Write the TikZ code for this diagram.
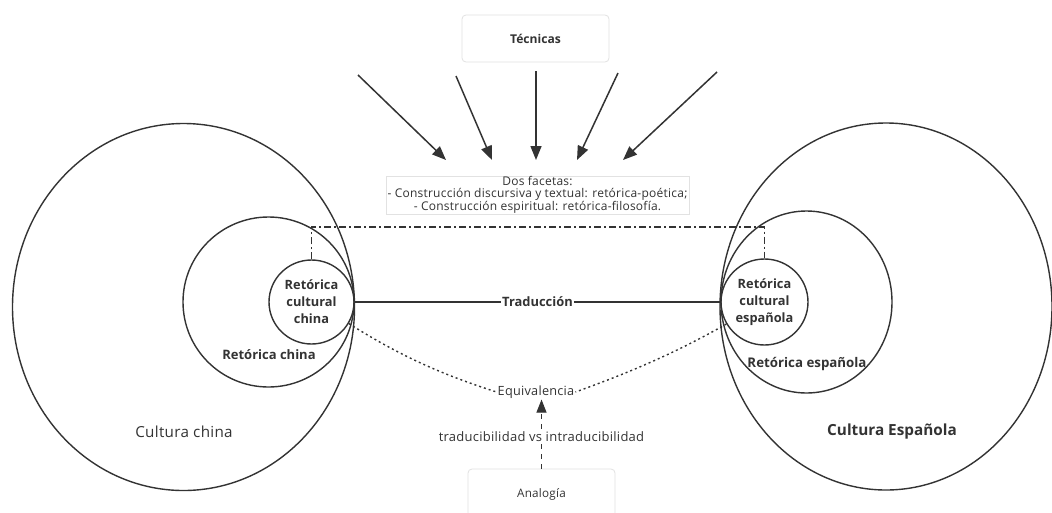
\documentclass[tikz,border=0pt]{standalone}
\usepackage{fontspec}
\setmainfont{Open Sans}[LetterSpace=2,BoldFeatures={LetterSpace=0}]
\usetikzlibrary{shapes.geometric,arrows.meta}
\definecolor{ln}{HTML}{333333}
\definecolor{tx}{HTML}{333333}
\definecolor{bx}{HTML}{E2E2E2}
\begin{document}
\begin{tikzpicture}[x=1pt,y=-1pt,
  ring/.style={draw=ln,line width=1.4pt,ellipse,inner sep=0pt},
  lbl/.style={text=tx,font=\fontsize{12.7}{14}\selectfont,inner sep=1pt},
  blbl/.style={text=tx,font=\bfseries\fontsize{12.8}{17}\selectfont,align=center,inner sep=1pt},
  card/.style={draw=bx,line width=0.8pt,rounded corners=4pt,fill=white,minimum width=147pt},
  arr/.style={draw=ln,line width=1.5pt,-{Triangle[length=14pt,width=11pt]}},
  dashdotline/.style={draw=ln,line width=1.4pt,dash pattern=on 7pt off 3pt on 2pt off 3pt},
  dotline/.style={draw=ln,line width=1.4pt,dash pattern=on 2pt off 3pt},
]
\clip (0,0) rectangle (1052,512);
\fill[white] (0,0) rectangle (1052,512);
% circles left
\node[ring,minimum width=342pt,minimum height=367pt] (culL) at (183.5,307) {};
\node[ring,minimum width=171pt,minimum height=170pt] (retL) at (268.5,302) {};
\node[ring,minimum width=85pt,minimum height=84pt] (rccL) at (311.5,302) {};
\node[blbl] (rccLlbl) at (rccL.center) {Retórica\\cultural\\china};
\node[blbl,font=\bfseries\fontsize{13}{17}\selectfont] (retLlbl) at (269,355) {Retórica china};
\node[lbl,font=\fontsize{15.2}{17}\selectfont] (culLlbl) at (184,432) {Cultura china};
% circles right
\node[ring,minimum width=332pt,minimum height=367pt] (culR) at (886,306.5) {};
\node[ring,minimum width=171pt,minimum height=182pt] (retR) at (806.5,302) {};
\node[ring,minimum width=87pt,minimum height=86pt] (rccR) at (764.5,302) {};
\node[blbl] (rccRlbl) at (rccR.center) {Retórica\\cultural\\española};
\node[blbl,font=\bfseries\fontsize{13.3}{17}\selectfont] (retRlbl) at (807,364) {Retórica española};
\node[blbl,font=\bfseries\fontsize{15.3}{17}\selectfont] (culRlbl) at (892,432) {Cultura Española};
% dash-dot link
\coordinate (dd) at (537,227);
\draw[dashdotline] (rccL.north) |- (dd) -| (rccR.north);
% two facets box
\node[draw=bx,line width=0.6pt,fill=white,align=center,text=tx,font=\fontsize{12}{11.8}\selectfont,minimum width=303pt,minimum height=38pt,inner sep=0.5pt] (dos) at (537.5,195) {Dos facetas:\\- Construcción discursiva y textual: retórica-poética;\\- Construcción espiritual: retórica-filosofía.};
% Tecnicas
\node[card,minimum height=47pt,text=tx,font=\bfseries\fontsize{12.1}{14}\selectfont] (tec) at (535.5,38.5) {Técnicas};
\coordinate (t1) at (358,75);  \coordinate (h1) at (446,160);
\coordinate (t2) at (456,76);  \coordinate (h2) at (492,160);
\coordinate (t3) at (536,71);  \coordinate (h3) at (536,160);
\coordinate (t4) at (618,73);  \coordinate (h4) at (577,160);
\coordinate (t5) at (717,72);  \coordinate (h5) at (623,160);
\draw[arr] (t1) -- (h1);
\draw[arr] (t2) -- (h2);
\draw[arr] (t3) -- (h3);
\draw[arr] (t4) -- (h4);
\draw[arr] (t5) -- (h5);
% Traduccion
\node[text=tx,font=\bfseries\fontsize{12.9}{15}\selectfont,inner sep=1pt] (trad) at (537.5,302) {Traducción};
\draw[ln,line width=1.4pt] (rccL.east) -- (trad.west);
\draw[ln,line width=1.4pt] (trad.east) -- (rccR.west);
% Equivalencia
\node[lbl] (eq) at (536,392) {Equivalencia};
\draw[dotline] (rccL.-30) .. controls (405,359) and (447,376) .. (eq.west);
\draw[dotline] (rccR.210) .. controls (670,356) and (625,374) .. (eq.east);
% Analogia
\node[card,minimum height=50pt,text=tx,font=\fontsize{11.7}{13}\selectfont] (ana) at (541.5,494) {Analogía};
\draw[draw=ln,line width=1.1pt,dash pattern=on 5pt off 5pt,-{Triangle[length=13pt,width=10pt]}] (ana.north) -- node[pos=0.46,lbl,fill=white,font=\fontsize{13}{15}\selectfont] {traducibilidad vs intraducibilidad} (ana.north |- eq.south);
\end{tikzpicture}
\end{document}
